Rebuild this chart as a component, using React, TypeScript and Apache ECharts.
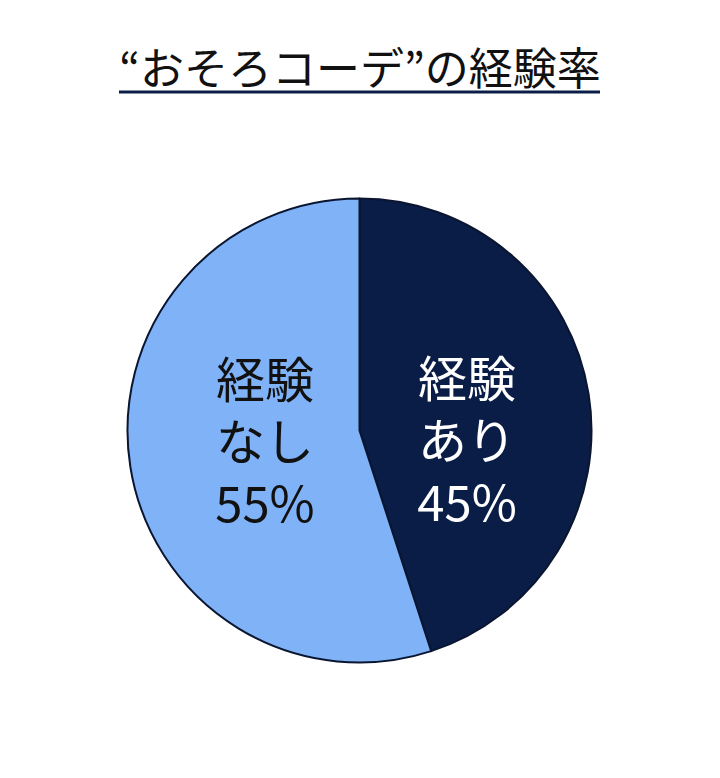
import { useEffect, useRef } from 'react';
import * as echarts from 'echarts';

const titleText = '“おそろコーデ”の経験率';
const categories = ['経験\nあり', '経験\nなし'];
const shares = [45, 55];
const sliceColors = ['#0a1d47', '#7fb2f6'];
const labelColors = ['#ffffff', '#111111'];
const labelOffsets: [number, number][] = [[-10, 26], [23, -11]];

const FONT = '"Noto Sans CJK JP", "Noto Sans", sans-serif';

export default function App() {
  const ref = useRef<HTMLDivElement | null>(null);

  useEffect(() => {
    document.body.style.margin = '0';
    if (!ref.current) return;
    const chart = echarts.init(ref.current, undefined, { renderer: 'svg' });
    chart.setOption({
      animation: false,
      backgroundColor: '#ffffff',
      title: {
        text: titleText,
        left: 'center',
        top: 39,
        textStyle: { fontFamily: FONT, fontSize: 44, fontWeight: 'normal', color: '#111111' },
      },
      graphic: [
        { type: 'line', shape: { x1: 119, y1: 92, x2: 600, y2: 92 }, style: { stroke: '#0a1d47', lineWidth: 3 } },
      ],
      series: [
        {
          type: 'pie',
          center: [359.5, 430.5],
          radius: [0, 232],
          startAngle: 90,
          clockwise: true,
          silent: true,
          itemStyle: { borderColor: '#0a1530', borderWidth: 2 },
          label: {
            show: true,
            position: 'inside',
            fontFamily: FONT,
            fontSize: 49,
            lineHeight: 62,
            align: 'center',
            formatter: (p: { name: string; value: number }) => `${p.name}\n${p.value}%`,
          },
          labelLine: { show: false },
          data: categories.map((name, i) => ({
            name,
            value: shares[i],
            itemStyle: { color: sliceColors[i] },
            label: { color: labelColors[i], offset: labelOffsets[i] },
          })),
        },
      ],
    });
    return () => chart.dispose();
  }, []);

  return <div ref={ref} style={{ width: 720, height: 778 }} />;
}
